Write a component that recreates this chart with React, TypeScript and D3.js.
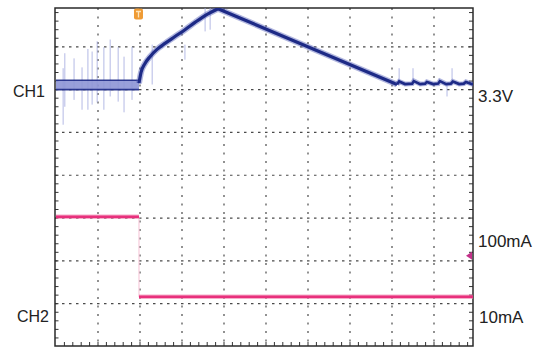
import React from "react";
import * as d3 from "d3";

// Units: x in time divisions (0..10), y in vertical divisions (0..8, bottom = 0)
const xDivs = [1, 2, 3, 4, 5, 6, 7, 8, 9];
const yDivs = [1, 2, 3, 4, 5, 6, 7];

// CH1 pre-trigger noisy band (edges)
const ch1PreX = [0, 1.976];
const ch1PreTop = [6.22, 6.22];
const ch1PreBottom = [6.0, 6.0];

// CH1 rise after trigger up to the peak
const ch1RiseX = [1.976, 2.024, 2.119, 2.238, 2.405, 2.595, 2.833, 3.071, 3.31, 3.548, 3.857];
const ch1RiseY = [6.15, 6.4, 6.61, 6.77, 6.94, 7.08, 7.24, 7.4, 7.57, 7.73, 7.89];

// CH1 linear fall
const ch1FallX = [3.857, 8.12];
const ch1FallY = [7.89, 6.12];

// CH1 flat tail with small noisy bumps
const ch1TailX = [8.12, 8.17, 8.31, 8.48, 8.52, 8.67, 8.79, 8.83, 8.98, 9.1, 9.14, 9.29, 9.4, 9.45, 9.6, 9.71, 9.76, 9.9, 10];
const ch1TailY = [6.12, 6.19, 6.13, 6.14, 6.2, 6.13, 6.14, 6.18, 6.13, 6.14, 6.2, 6.13, 6.14, 6.19, 6.13, 6.14, 6.18, 6.13, 6.14];

// CH1 light noise spikes: x, top, bottom
const spikeX = [0.17, 0.21, 0.43, 0.62, 0.76, 0.86, 0.98, 1.14, 1.29, 1.48, 1.62, 1.81, 2.29, 3.07, 3.55, 3.67, 8.17, 8.5, 9.31, 9.43];
const spikeTop = [6.5, 6.85, 6.73, 6.52, 6.95, 6.89, 7.13, 6.99, 7.17, 6.99, 6.77, 7.0, 7.05, 7.05, 7.96, 7.91, 6.5, 6.5, 6.1, 6.5];
const spikeBottom = [5.18, 5.6, 5.76, 5.53, 5.53, 5.65, 5.7, 5.53, 5.84, 5.72, 5.47, 5.76, 6.12, 6.7, 7.36, 7.4, 6.12, 6.12, 5.84, 6.12];

// CH2 current trace
const ch2X = [0, 1.976, 1.976, 10];
const ch2Y = [3.03, 3.03, 1.16, 1.16];

const triggerX = 1.976;
const ch2MarkerY = 2.12;

const leftLabels = ["CH1", "CH2"];
const rightLabels = ["3.3V", "100mA", "10mA"];

const W = 536;
const H = 347;

export default function App() {
  const frame = { x0: 55, x1: 473, y0: 8, y1: 346 };
  const leftPos = [
    [13, 97],
    [17, 322],
  ];
  const rightPos = [
    [478, 102],
    [478, 247],
    [479, 323],
  ];

  const x = d3.scaleLinear().domain([0, 10]).range([56, 476]);
  const y = d3.scaleLinear().domain([0, 8]).range([346.5, 4]);

  const line = d3.line<[number, number]>().x((d) => x(d[0])).y((d) => y(d[1]));
  const smooth = d3
    .line<[number, number]>()
    .x((d) => x(d[0]))
    .y((d) => y(d[1]))
    .curve(d3.curveMonotoneX);
  const zip = (a: number[], b: number[]) => a.map((v, i) => [v, b[i]] as [number, number]);

  const preBand = d3
    .area<number>()
    .x((_, i) => x(ch1PreX[i]))
    .y0((_, i) => y(ch1PreBottom[i]))
    .y1((_, i) => y(ch1PreTop[i]));

  const minorX = d3.range(0, 10.001, 0.2);
  const minorY = d3.range(0, 8.001, 0.2);

  const navy = "#1d2a86";
  const pink = "#e8307c";
  const font = "'Liberation Sans', Arial, sans-serif";

  const mainPath = (smooth(zip(ch1RiseX, ch1RiseY)) || "") + (line(zip(ch1FallX, ch1FallY)) || "").replace(/^M/, "L");

  return (
    <svg width={W} height={H} style={{ position: "absolute", left: 0, top: 0, background: "#fff" }}>
      <defs>
        <clipPath id="plot">
          <rect x={frame.x0} y={frame.y0} width={frame.x1 - frame.x0} height={frame.y1 - frame.y0} />
        </clipPath>
      </defs>
      {/* grid */}
      <g stroke="#4a4a4a" strokeWidth={1.2}>
        {xDivs.map((d) => (
          <line key={"gx" + d} x1={x(d)} x2={x(d)} y1={frame.y0} y2={frame.y1} strokeDasharray="2,6.5" />
        ))}
        {yDivs.map((d) => (
          <line key={"gy" + d} x1={frame.x0} x2={frame.x1} y1={y(d)} y2={y(d)} strokeDasharray="2.5,4.5" />
        ))}
      </g>
      {/* frame ticks */}
      <g stroke="#333" strokeWidth={1}>
        {minorY.map((d, i) =>
          y(d) > frame.y0 + 1 && y(d) < frame.y1 - 1 ? (
            <g key={"ty" + i}>
              <line x1={frame.x0} x2={frame.x0 + 3.5} y1={y(d)} y2={y(d)} />
              <line x1={frame.x1} x2={frame.x1 - 4} y1={y(d)} y2={y(d)} />
            </g>
          ) : null
        )}
        {minorX.map((d, i) =>
          x(d) > frame.x0 + 1 && x(d) < frame.x1 - 1 ? (
            <line key={"tx" + i} x1={x(d)} x2={x(d)} y1={frame.y1} y2={frame.y1 - 4} />
          ) : null
        )}
      </g>
      <rect
        x={frame.x0}
        y={frame.y0}
        width={frame.x1 - frame.x0}
        height={frame.y1 - frame.y0}
        fill="none"
        stroke="#2a2a2a"
        strokeWidth={1.5}
      />
      <g clipPath="url(#plot)">
        {/* CH1 light spikes */}
        <g stroke="#a3aae0" strokeWidth={1} opacity={0.8}>
          {spikeX.map((sx, i) => (
            <line key={"sp" + i} x1={x(sx)} x2={x(sx)} y1={y(spikeTop[i])} y2={y(spikeBottom[i])} />
          ))}
        </g>
        {/* CH1 pre-trigger band */}
        <path d={preBand(ch1PreX) || ""} fill="#8d95d6" opacity={0.9} />
        <path d={line(zip(ch1PreX, ch1PreTop)) || ""} fill="none" stroke={navy} strokeWidth={1.6} opacity={0.9} />
        <path d={line(zip(ch1PreX, ch1PreBottom)) || ""} fill="none" stroke={navy} strokeWidth={1.6} opacity={0.9} />
        {/* CH1 rise + fall */}
        <path d={mainPath} fill="none" stroke="#5560b8" strokeWidth={6} opacity={0.45} strokeLinejoin="round" />
        <path d={mainPath} fill="none" stroke={navy} strokeWidth={3.2} strokeLinejoin="round" />
        {/* CH1 tail */}
        <path d={line(zip(ch1TailX, ch1TailY)) || ""} fill="none" stroke="#5560b8" strokeWidth={5} opacity={0.45} />
        <path d={line(zip(ch1TailX, ch1TailY)) || ""} fill="none" stroke={navy} strokeWidth={2.6} />
        {/* CH2 */}
        <line x1={x(triggerX)} x2={x(triggerX)} y1={y(ch2Y[1])} y2={y(ch2Y[2])} stroke="#f6c0d4" strokeWidth={1} />
        <path d={line(zip(ch2X.slice(0, 2), ch2Y.slice(0, 2))) || ""} fill="none" stroke="#f07aa8" strokeWidth={4.5} opacity={0.6} />
        <path d={line(zip(ch2X.slice(0, 2), ch2Y.slice(0, 2))) || ""} fill="none" stroke={pink} strokeWidth={2.5} />
        <path d={line(zip(ch2X.slice(2), ch2Y.slice(2))) || ""} fill="none" stroke="#f07aa8" strokeWidth={4.5} opacity={0.6} />
        <path d={line(zip(ch2X.slice(2), ch2Y.slice(2))) || ""} fill="none" stroke={pink} strokeWidth={2.5} />
      </g>
      {/* CH2 marker */}
      <path
        d={`M${frame.x1 - 1},${y(ch2MarkerY) - 4} L${frame.x1 - 7},${y(ch2MarkerY)} L${frame.x1 - 1},${y(ch2MarkerY) + 4} Z`}
        fill="#c4308a"
      />
      {/* Trigger marker */}
      <g transform={`translate(${x(triggerX) - 0.5},${frame.y0 + 6})`}>
        <rect x={-4.5} y={-5.5} width={9} height={11} rx={2} fill="#ef9b35" />
        <path d="M-2.5,-2.5 L2.5,-2.5 M0,-2.5 L0,3.5" stroke="#fde3b8" strokeWidth={1.3} />
      </g>
      {/* Labels */}
      <g fontFamily={font} fill="#222">
        {leftLabels.map((t, i) => (
          <text key={t} x={leftPos[i][0]} y={leftPos[i][1]} fontSize={16}>
            {t}
          </text>
        ))}
        {rightLabels.map((t, i) => (
          <text key={t} x={rightPos[i][0]} y={rightPos[i][1]} fontSize={17}>
            {t}
          </text>
        ))}
      </g>
    </svg>
  );
}
